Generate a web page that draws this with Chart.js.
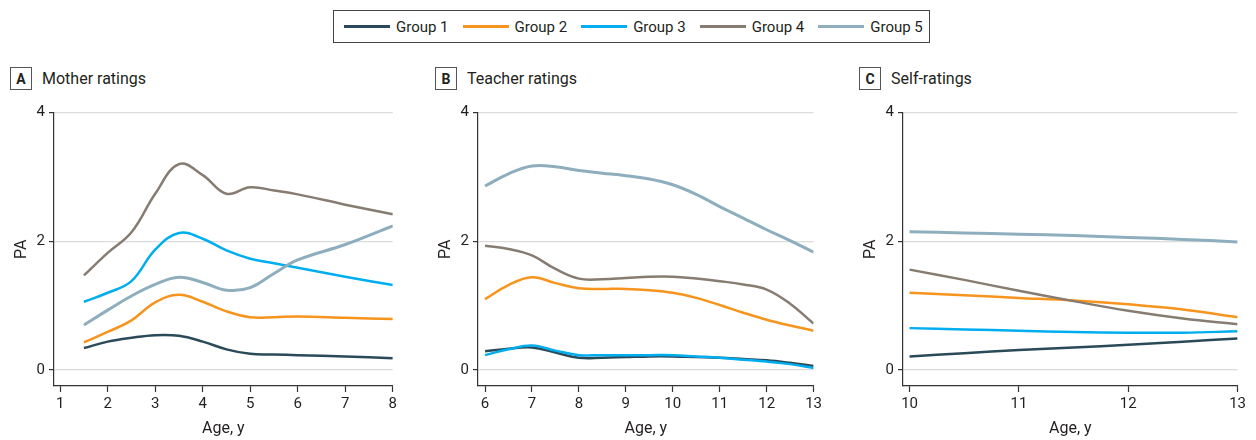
<!DOCTYPE html>
<html>
<head>
<meta charset="utf-8">
<script src="https://cdn.jsdelivr.net/npm/chart.js@4.4.1/dist/chart.umd.min.js"></script>
<style>
    body {
        margin: 0;
        width: 1256px;
        height: 440px;
        background: #fff;
        position: relative;
        overflow: hidden;
        font-family: Roboto, sans-serif;
        color: #231f20;
    }
    #legend {
        position: absolute;
        left: 333px;
        top: 10px;
        width: 597px;
        height: 33px;
        box-sizing: border-box;
        border: 1px solid #444;
        display: flex;
        align-items: center;
        padding-left: 10px;
        font-size: 15px;
        white-space: nowrap;
    }
    .item { display: flex; align-items: center; margin-right: 14px; flex-shrink: 0; }
    .item .line { width: 46px; height: 2.5px; margin-right: 6px; }
    .panel-title {
        position: absolute;
        top: 67px;
        display: flex;
        align-items: center;
        font-size: 16px;
        white-space: nowrap;
    }
    .panel-title .box {
        width: 22px;
        height: 23px;
        box-sizing: border-box;
        border: 1px solid #555;
        font-weight: bold;
        font-size: 14px;
        display: flex;
        align-items: center;
        justify-content: center;
        margin-right: 10px;
    }
    .wrap { position: absolute; top: 95px; height: 345px; }
</style>
</head>
<body>

<div id="legend"></div>

<div class="panel-title" style="left:10px"><span class="box">A</span>Mother ratings</div>
<div class="panel-title" style="left:435px"><span class="box">B</span>Teacher ratings</div>
<div class="panel-title" style="left:859px"><span class="box">C</span>Self-ratings</div>

<div class="wrap" style="left:0px; width:400px"><canvas id="chartA" width="400" height="345"></canvas></div>
<div class="wrap" style="left:424px; width:401px"><canvas id="chartB" width="401" height="345"></canvas></div>
<div class="wrap" style="left:849px; width:400px"><canvas id="chartC" width="400" height="345"></canvas></div>

<script>
// Groups and colours
const groups = ['Group 1', 'Group 2', 'Group 3', 'Group 4', 'Group 5'];
const colors = ['#2b4a59', '#f7941d', '#00aeef', '#877c71', '#8eaebd'];

// A - Mother ratings
const agesMother = [1.5, 2, 2.5, 3, 3.5, 4, 4.5, 5, 5.5, 6, 7, 8];
const motherG1 = [0.34, 0.44, 0.50, 0.54, 0.53, 0.44, 0.32, 0.25, 0.24, 0.23, 0.21, 0.18];
const motherG2 = [0.43, 0.59, 0.77, 1.05, 1.17, 1.06, 0.91, 0.82, 0.82, 0.83, 0.81, 0.79];
const motherG3 = [1.06, 1.20, 1.38, 1.87, 2.13, 2.04, 1.86, 1.73, 1.66, 1.59, 1.45, 1.32];
const motherG4 = [1.47, 1.82, 2.14, 2.74, 3.20, 3.03, 2.74, 2.84, 2.79, 2.73, 2.57, 2.42];
const motherG5 = [0.70, 0.93, 1.15, 1.33, 1.44, 1.36, 1.24, 1.28, 1.50, 1.71, 1.95, 2.24];

// B - Teacher ratings
const agesTeacher = [6, 6.5, 7, 7.5, 8, 8.5, 9, 9.5, 10, 10.5, 11, 11.5, 12, 12.5, 13];
const teacherG1 = [0.29, 0.33, 0.35, 0.27, 0.19, 0.19, 0.20, 0.21, 0.21, 0.20, 0.19, 0.17, 0.15, 0.11, 0.06];
const teacherG2 = [1.10, 1.32, 1.44, 1.35, 1.27, 1.26, 1.26, 1.24, 1.20, 1.12, 1.01, 0.89, 0.78, 0.69, 0.61];
const teacherG3 = [0.23, 0.32, 0.38, 0.30, 0.23, 0.23, 0.23, 0.23, 0.23, 0.21, 0.19, 0.16, 0.13, 0.09, 0.03];
const teacherG4 = [1.93, 1.88, 1.78, 1.57, 1.42, 1.41, 1.43, 1.45, 1.45, 1.42, 1.38, 1.33, 1.25, 1.03, 0.72];
const teacherG5 = [2.86, 3.05, 3.17, 3.16, 3.10, 3.06, 3.02, 2.97, 2.88, 2.73, 2.54, 2.36, 2.18, 2.01, 1.83];

// C - Self-ratings
const agesSelf = [10, 10.5, 11, 11.5, 12, 12.5, 13];
const selfG1 = [0.21, 0.26, 0.31, 0.35, 0.39, 0.44, 0.49];
const selfG2 = [1.20, 1.16, 1.12, 1.08, 1.02, 0.94, 0.82];
const selfG3 = [0.65, 0.63, 0.61, 0.59, 0.58, 0.58, 0.60];
const selfG4 = [1.56, 1.40, 1.23, 1.07, 0.92, 0.80, 0.71];
const selfG5 = [2.15, 2.13, 2.11, 2.09, 2.06, 2.03, 1.99];

// Axis ticks
const yTicks = [0, 2, 4];
const xTicksMother = [1, 2, 3, 4, 5, 6, 7, 8];
const xTicksTeacher = [6, 7, 8, 9, 10, 11, 12, 13];
const xTicksSelf = [10, 11, 12, 13];

const fontFamily = 'Roboto, sans-serif';
const axisColor = '#333';

// Legend (HTML)
const legend = document.getElementById('legend');
groups.forEach((g, i) => {
    const item = document.createElement('div');
    item.className = 'item';
    item.innerHTML = `<span class="line" style="background:${colors[i]}"></span><span>${g}</span>`;
    legend.appendChild(item);
});

function createPanel(canvasId, ages, seriesList, xMin, xTicks) {
    const ctx = document.getElementById(canvasId).getContext('2d');
    const datasets = seriesList.map((values, i) => ({
        label: groups[i],
        data: ages.map((a, j) => ({ x: a, y: values[j] })),
        borderColor: colors[i],
        borderWidth: i === 4 ? 3 : 2.5,
        pointRadius: 0,
        tension: 0.4,
        fill: false
    }));
    // Group 1 on top, like the original
    datasets.reverse();

    return new Chart(ctx, {
        type: 'line',
        data: { datasets },
        options: {
            responsive: false,
            animation: false,
            layout: { padding: { top: 17.7, right: 7, left: 0, bottom: 0 } },
            plugins: { legend: { display: false }, tooltip: { enabled: false } },
            scales: {
                x: {
                    type: 'linear',
                    min: xMin,
                    max: xTicks[xTicks.length - 1],
                    afterBuildTicks: s => { s.ticks = xTicks.map(v => ({ value: v })); },
                    afterFit: s => { s.height = 54; },
                    grid: { drawOnChartArea: false, tickLength: 6, tickColor: axisColor, tickWidth: 1.2 },
                    border: { color: axisColor, width: 1.2 },
                    ticks: { color: '#231f20', padding: 3, font: { family: fontFamily, size: 15 } },
                    title: {
                        display: true,
                        text: 'Age, y',
                        color: '#231f20',
                        padding: { top: 0, bottom: 1 },
                        font: { family: fontFamily, size: 16 }
                    }
                },
                y: {
                    min: -0.25,
                    max: 4,
                    afterBuildTicks: s => { s.ticks = yTicks.map(v => ({ value: v })); },
                    afterFit: s => { s.width = 54; },
                    grid: { color: '#dcdcdc', lineWidth: 1.2, tickLength: 5, tickColor: axisColor, tickWidth: 1.2 },
                    border: { color: axisColor, width: 1.2 },
                    ticks: { color: '#231f20', padding: 4, font: { family: fontFamily, size: 15 } },
                    title: {
                        display: true,
                        text: 'PA',
                        color: '#231f20',
                        padding: { top: 12, bottom: 0 },
                        font: { family: fontFamily, size: 16 }
                    }
                }
            }
        }
    });
}

createPanel('chartA', agesMother, [motherG1, motherG2, motherG3, motherG4, motherG5], 0.87, xTicksMother);
createPanel('chartB', agesTeacher, [teacherG1, teacherG2, teacherG3, teacherG4, teacherG5], 5.85, xTicksTeacher);
createPanel('chartC', agesSelf, [selfG1, selfG2, selfG3, selfG4, selfG5], 9.94, xTicksSelf);
</script>
</body>
</html>
